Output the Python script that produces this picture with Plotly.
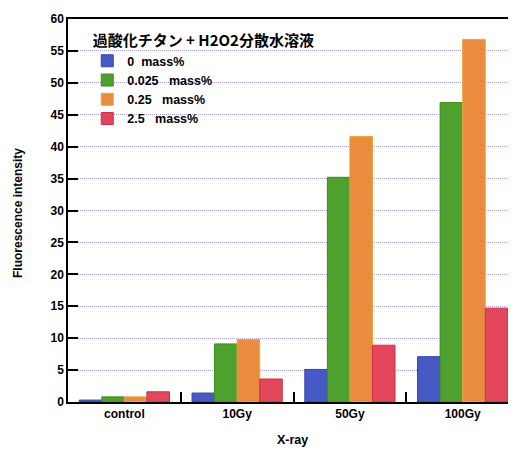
import plotly.graph_objects as go

categories = ["control", "10Gy", "50Gy", "100Gy"]
series_names = ["0\u00a0\u00a0mass%", "0.025\u00a0\u00a0\u00a0mass%", "0.25\u00a0\u00a0\u00a0mass%", "2.5\u00a0\u00a0\u00a0mass%"]
vals_0 = [0.3, 1.4, 5.1, 7.1]
vals_0025 = [0.8, 9.1, 35.2, 46.9]
vals_025 = [0.8, 9.8, 41.6, 56.8]
vals_25 = [1.6, 3.6, 8.9, 14.7]
y_ticks = list(range(0, 61, 5))

colors = ["#4759c4", "#4fa12d", "#e98c3e", "#e1465b"]
edges = ["#3445a8", "#3a8a1e", "#f2a23a", "#c83049"]

FONT = "Liberation Sans, Arial, Noto Sans CJK JP, sans-serif"

fig = go.Figure()
for name, vals, c, e in zip(series_names, [vals_0, vals_0025, vals_025, vals_25], colors, edges):
    fig.add_trace(go.Bar(x=categories, y=vals, name=name,
                         marker=dict(color=c, line=dict(color=e, width=1))))

PW, PH = 448, 383
fig.update_layout(
    width=508, height=444,
    margin=dict(l=60, r=0, t=11, b=50, autoexpand=False),
    paper_bgcolor="white", plot_bgcolor="white",
    barmode="group", bargap=0.2, bargroupgap=0,
    font=dict(family=FONT, color="black"),
    showlegend=True,
    legend=dict(
        x=0.043, y=0.98, xanchor="left", yanchor="top",
        bgcolor="rgba(0,0,0,0)",
        font=dict(size=12.5, weight="bold", family=FONT),
        title=dict(text="\u00a0過酸化チタン + H2O2分散水溶液",
                   font=dict(size=15, weight="bold", family="Noto Sans CJK JP, Liberation Sans")),
        tracegroupgap=0,
    ),
    annotations=[
        dict(text="Fluorescence intensity", xref="paper", yref="paper",
             x=(18 - 68) / PW, y=(402 - 213) / PH, xanchor="center", yanchor="middle",
             textangle=-90, showarrow=False, font=dict(size=12, weight="bold")),
        dict(text="X-ray", xref="paper", yref="paper",
             x=(292 - 68) / PW, y=-(440 - 402) / PH, xanchor="center", yanchor="middle",
             showarrow=False, font=dict(size=12.5, weight="bold")),
    ],
)

fig.update_xaxes(
    range=[-0.5, 3.473], automargin=False,
    showline=True, linecolor="black", linewidth=1.5, mirror=True,
    ticks="inside", tickson="boundaries", ticklen=10, tickwidth=1.5, tickcolor="black",
    tickfont=dict(size=12, weight="bold"),
    showgrid=False,
)
fig.update_yaxes(
    range=[0, 60], tickvals=y_ticks, automargin=False,
    showline=True, linecolor="black", linewidth=1.5,
    ticks="inside", ticklen=10, tickwidth=1.5, tickcolor="black",
    tickfont=dict(size=12, weight="bold"),
    showgrid=True, gridcolor="#a89ee0", griddash="1px,1px", gridwidth=1,
    zeroline=False,
)

fig.write_html("out.html")
